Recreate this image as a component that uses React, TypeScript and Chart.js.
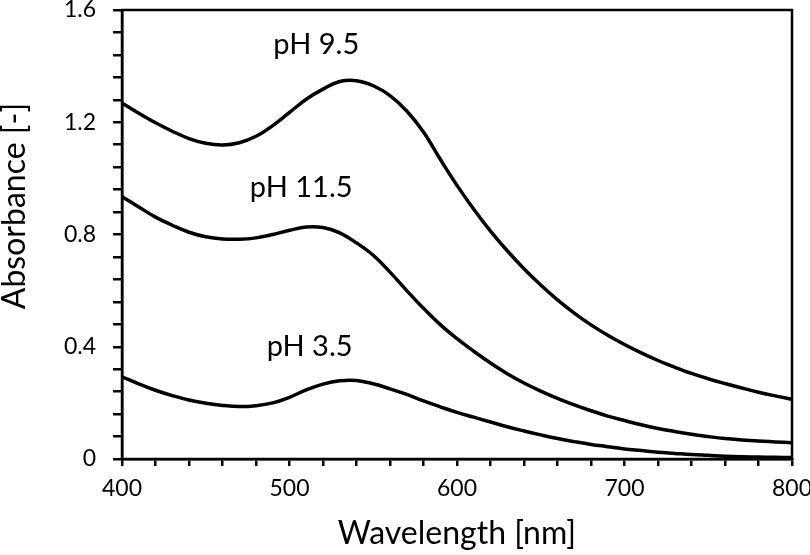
import React, { useEffect, useRef } from "react";
import { Chart, registerables } from "chart.js";

Chart.register(...registerables);

const wavelengths = [
  400, 410, 420, 430, 440, 450, 460, 470, 480, 490, 500, 510, 520, 530, 540, 550,
  560, 570, 580, 590, 600, 610, 620, 630, 640, 650, 660, 670, 680, 690, 700, 710,
  720, 730, 740, 750, 760, 770, 780, 790, 800,
];

const ph95 = [
  1.269, 1.232, 1.198, 1.168, 1.142, 1.125, 1.119, 1.127, 1.15, 1.188, 1.235, 1.282,
  1.318, 1.345, 1.348, 1.33, 1.295, 1.24, 1.165, 1.068, 0.975, 0.89, 0.812, 0.742,
  0.678, 0.62, 0.567, 0.52, 0.478, 0.441, 0.408, 0.378, 0.351, 0.327, 0.305, 0.286,
  0.269, 0.253, 0.238, 0.225, 0.213,
];

const ph115 = [
  0.935, 0.898, 0.862, 0.833, 0.808, 0.792, 0.784, 0.783, 0.788, 0.8, 0.815, 0.827,
  0.825, 0.806, 0.77, 0.726, 0.666, 0.6, 0.537, 0.479, 0.429, 0.384, 0.342, 0.304,
  0.271, 0.242, 0.216, 0.193, 0.172, 0.153, 0.137, 0.122, 0.109, 0.098, 0.088, 0.08,
  0.073, 0.068, 0.064, 0.061, 0.058,
];

const ph35 = [
  0.293, 0.268, 0.245, 0.226, 0.21, 0.199, 0.191, 0.187, 0.19, 0.2, 0.22, 0.246,
  0.267, 0.279, 0.28, 0.268, 0.25, 0.23, 0.207, 0.186, 0.166, 0.149, 0.132, 0.115,
  0.1, 0.086, 0.073, 0.062, 0.052, 0.044, 0.036, 0.03, 0.024, 0.02, 0.016, 0.013,
  0.01, 0.008, 0.007, 0.006, 0.005,
];

const seriesNames = ["pH 9.5", "pH 11.5", "pH 3.5"];
const labelX = [516, 507, 512];
const labelY = [1.475, 0.966, 0.399];

const xTitle = "Wavelength [nm]";
const yTitle = "Absorbance [-]";

const FONT = "Lato, 'Open Sans', sans-serif";

const decorPlugin = {
  id: "decor",
  afterDraw(chart: any) {
    const { ctx, chartArea, scales } = chart;
    ctx.save();
    ctx.strokeStyle = "#000";
    ctx.lineWidth = 2.5;
    ctx.strokeRect(chartArea.left, chartArea.top, chartArea.right - chartArea.left, chartArea.bottom - chartArea.top);
    ctx.fillStyle = "#000";
    ctx.font = `29px ${FONT}`;
    ctx.textAlign = "center";
    ctx.textBaseline = "middle";
    seriesNames.forEach((n, i) => {
      ctx.fillText(n, scales.x.getPixelForValue(labelX[i]), scales.y.getPixelForValue(labelY[i]));
    });
    ctx.font = `32px ${FONT}`;
    ctx.fillText(xTitle, (chartArea.left + chartArea.right) / 2, 534);
    ctx.translate(15, 206);
    ctx.rotate(-Math.PI / 2);
    ctx.fillText(yTitle, 0, 0);
    ctx.restore();
  },
};

export default function App() {
  const ref = useRef<HTMLCanvasElement | null>(null);
  useEffect(() => {
    if (!ref.current) return;
    const mk = (vals: number[]) => wavelengths.map((x, i) => ({ x, y: vals[i] }));
    const ds = (label: string, vals: number[]) => ({
      label,
      data: mk(vals),
      borderColor: "#000",
      backgroundColor: "#000",
      borderWidth: 3.5,
      pointRadius: 0,
      tension: 0.4,
      fill: false,
    });
    const chart = new Chart(ref.current, {
      type: "line",
      data: {
        datasets: [ds(seriesNames[0], ph95), ds(seriesNames[1], ph115), ds(seriesNames[2], ph35)],
      },
      options: {
        animation: false,
        responsive: false,
        layout: { padding: { top: 10, right: 18, left: 0, bottom: 0 } },
        plugins: { legend: { display: false }, tooltip: { enabled: false } },
        scales: {
          x: {
            type: "linear",
            min: 400,
            max: 800,
            afterFit: (s: any) => {
              s.height = 96;
              s.paddingLeft = 0;
              s.paddingRight = 0;
            },
            ticks: {
              stepSize: 20,
              autoSkip: false,
              maxRotation: 0,
              padding: 9,
              color: "#000",
              font: { family: FONT, size: 23 },
              callback: (v: any) => (Math.abs(v % 100) < 1e-6 ? String(v) : ""),
            },
            grid: {
              drawOnChartArea: false,
              drawTicks: true,
              tickLength: 7,
              color: "#000",
              lineWidth: 2.5,
            },
            border: { display: true, color: "#000", width: 2.5 },
          },
          y: {
            type: "linear",
            min: 0,
            max: 1.6,
            afterFit: (s: any) => {
              s.width = 122;
              s.paddingTop = 0;
              s.paddingBottom = 0;
            },
            ticks: {
              stepSize: 0.08,
              autoSkip: false,
              padding: 17,
              color: "#000",
              font: { family: FONT, size: 23 },
              callback: (v: any) => {
                const r = v / 0.4;
                if (Math.abs(r - Math.round(r)) < 1e-6) {
                  const n = Math.round(r) * 0.4;
                  return n === 0 ? "0" : n.toFixed(1);
                }
                return "";
              },
            },
            grid: {
              drawOnChartArea: false,
              drawTicks: true,
              tickLength: 9,
              color: "#000",
              lineWidth: 2.5,
            },
            border: { display: true, color: "#000", width: 2.5 },
          },
        },
      },
      plugins: [decorPlugin],
    });
    return () => chart.destroy();
  }, []);
  return (
    <div style={{ position: "fixed", left: 0, top: 0, width: 810, height: 555, background: "#fff" }}>
      <canvas ref={ref} width={810} height={555} style={{ display: "block" }} />
    </div>
  );
}
